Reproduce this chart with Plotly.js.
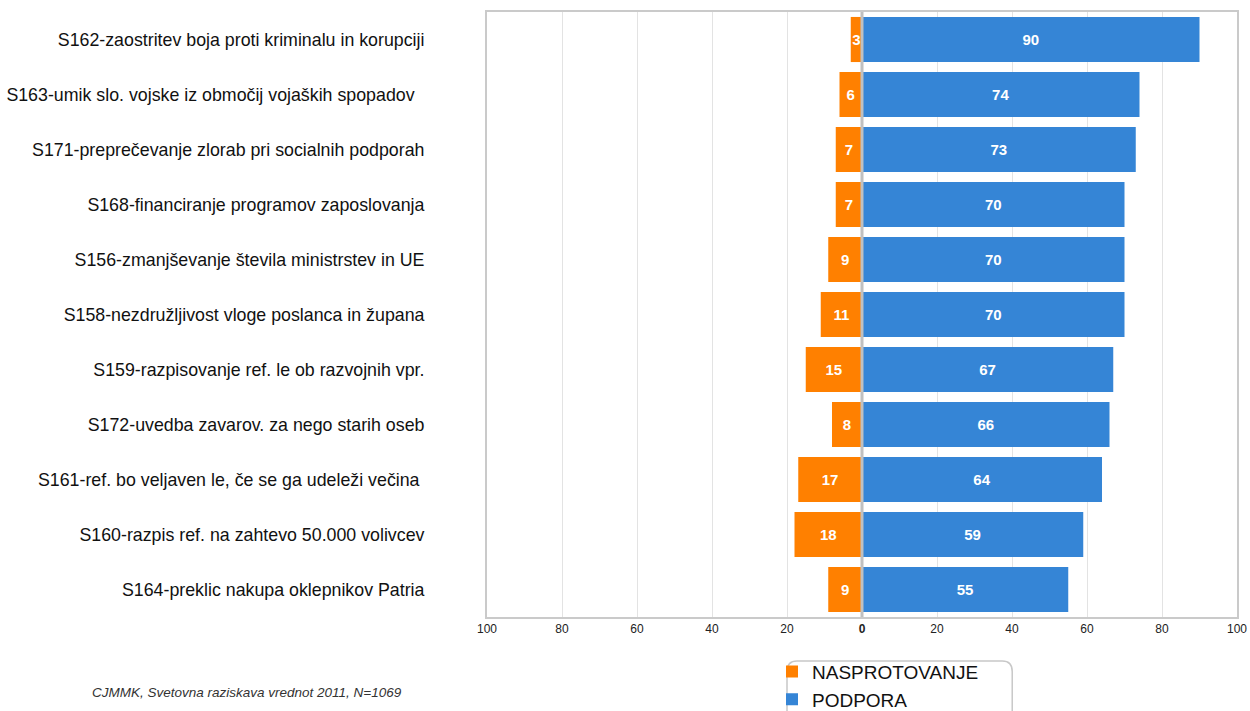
<!DOCTYPE html>
<html><head><meta charset="utf-8">
<script src="https://cdn.plot.ly/plotly-3.0.1.min.js"></script>
<style>body{margin:0;background:#fff}#c{width:1250px;height:711px}</style>
</head><body><div id="c"></div>
<script>
const categories = [
  "S162-zaostritev boja proti kriminalu in korupciji",
  "S163-umik slo. vojske iz območij vojaških spopadov\u00a0\u00a0",
  "S171-preprečevanje zlorab pri socialnih podporah",
  "S168-financiranje programov zaposlovanja",
  "S156-zmanjševanje števila ministrstev in UE",
  "S158-nezdružljivost vloge poslanca in župana",
  "S159-razpisovanje ref. le ob razvojnih vpr.",
  "S172-uvedba zavarov. za nego starih oseb",
  "S161-ref. bo veljaven le, če se ga udeleži večina\u00a0",
  "S160-razpis ref. na zahtevo 50.000 volivcev",
  "S164-preklic nakupa oklepnikov Patria"
];
const nasprotovanje = [3, 6, 7, 7, 9, 11, 15, 8, 17, 18, 9];
const podpora = [90, 74, 73, 70, 70, 70, 67, 66, 64, 59, 55];
const tickVals = [-100, -80, -60, -40, -20, 0, 20, 40, 60, 80, 100];
const tickText = ["100", "80", "60", "40", "20", "<b>0</b>", "20", "40", "60", "80", "100"];
const sourceNote = "CJMMK, Svetovna raziskava vrednot 2011, N=1069";

const barFont = {family: "Liberation Sans, Arial, sans-serif", size: 15, color: "#fff", weight: "bold"};
const traces = [
  {
    type: "bar", orientation: "h", name: "NASPROTOVANJE",
    y: categories, x: nasprotovanje.map(v => -v),
    text: nasprotovanje.map(String), textposition: "inside",
    insidetextanchor: "middle", constraintext: "none",
    textfont: barFont,
    marker: {color: "#ff8000", line: {width: 0}}, hoverinfo: "skip"
  },
  {
    type: "bar", orientation: "h", name: "PODPORA",
    y: categories, x: podpora,
    text: podpora.map(String), textposition: "inside",
    insidetextanchor: "middle", constraintext: "none",
    textfont: barFont,
    marker: {color: "#3585d6", line: {width: 0}}, hoverinfo: "skip"
  }
];

const layout = {
  width: 1250, height: 711,
  margin: {l: 487, r: 13, t: 12, b: 94, autoexpand: false},
  paper_bgcolor: "#fff", plot_bgcolor: "#fff",
  barmode: "relative", bargap: 0.18,
  font: {family: "Liberation Sans, Arial, sans-serif", color: "#111"},
  xaxis: {
    range: [-100, 100], tickvals: tickVals, ticktext: tickText,
    showgrid: true, gridcolor: "#e3e3e3", gridwidth: 1,
    zeroline: false, showline: true, mirror: true, linecolor: "#cacaca", linewidth: 2,
    ticks: "", tickfont: {size: 12, color: "#222"}, fixedrange: true
  },
  yaxis: {
    type: "category", autorange: "reversed",
    showgrid: false, zeroline: false, showline: true, mirror: true,
    linecolor: "#cacaca", linewidth: 2, ticks: "",
    tickfont: {size: 17.8, color: "#111"}, ticklabelstandoff: 57, fixedrange: true
  },
  showlegend: true,
  legend: {
    orientation: "v", x: 0.38, xanchor: "left", y: -0.059, yanchor: "top",
    font: {size: 19, color: "#111"}, bgcolor: "rgba(0,0,0,0)", borderwidth: 0,
    traceorder: "normal"
  },
  shapes: [
    {type: "line", xref: "x", yref: "paper", x0: 0, x1: 0, y0: 0, y1: 1,
     line: {color: "#c0c0c0", width: 3}, layer: "above"},
    {type: "path", xref: "paper", yref: "paper",
     path: "M 0.4,-0.2 L 0.4,-0.09 Q 0.4,-0.0727 0.4133,-0.0727 L 0.687,-0.0727 Q 0.7003,-0.0727 0.7003,-0.09 L 0.7003,-0.2",
     line: {color: "#c8c8c8", width: 1.5}, layer: "above"}
  ],
  annotations: [
    {xref: "paper", yref: "paper", x: -0.529, y: -0.124, xanchor: "left", yanchor: "middle",
     text: "<i>" + sourceNote + "</i>", showarrow: false,
     font: {size: 13.5, color: "#333"}}
  ]
};
Plotly.newPlot("c", traces, layout, {displayModeBar: false, staticPlot: true});
</script></body></html>
